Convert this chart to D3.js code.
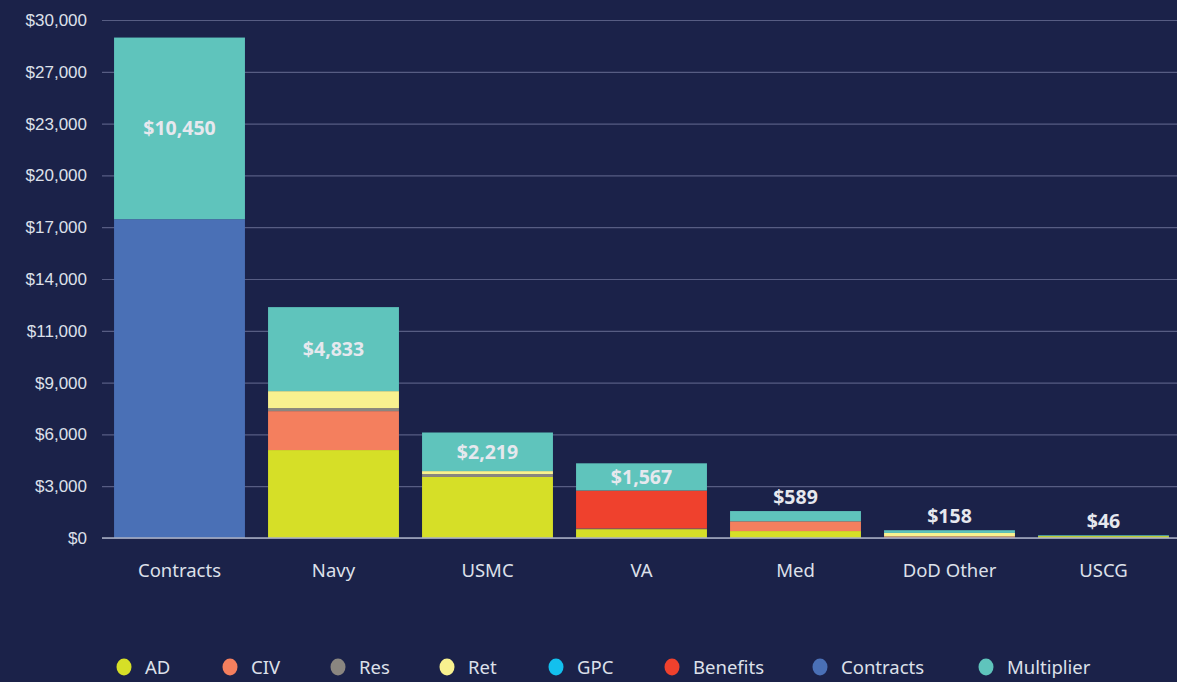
<!DOCTYPE html>
<html><head><meta charset="utf-8">
<script src="https://cdn.jsdelivr.net/npm/d3@7"></script>
<style>
html,body{margin:0;padding:0;background:#1b2249;}
svg{display:block;font-family:"Noto Sans",sans-serif;}
</style></head>
<body><svg id="chart" width="1177" height="682"></svg>
<script>
const categories = ["Contracts","Navy","USMC","VA","Med","DoD Other","USCG"];
const seriesNames = ["AD","CIV","Res","Ret","GPC","Benefits","Contracts","Multiplier"];
const AD         = [0, 5060, 3510, 510, 400, 20, 110];
const CIV        = [0, 2240, 0, 0, 560, 70, 0];
const Res        = [0, 170, 170, 40, 0, 0, 0];
const Ret        = [0, 980, 170, 0, 0, 200, 0];
const GPC        = [0, 0, 0, 0, 0, 0, 0];
const Benefits   = [0, 0, 0, 2180, 0, 0, 0];
const Contracts  = [18340, 0, 0, 0, 0, 0, 0];
const Multiplier = [10450, 4833, 2219, 1567, 589, 158, 46];
const yMax = 29800;
const yTickLabels = ["$0","$3,000","$6,000","$9,000","$11,000","$14,000","$17,000","$20,000","$23,000","$27,000","$30,000"];
const colors = ["#d6df27","#f47f5e","#8a8680","#f8f18f","#13c0ee","#ef412d","#4a70b6","#5fc4bc"];

(function(){
const seriesData = [AD,CIV,Res,Ret,GPC,Benefits,Contracts,Multiplier];
const table = categories.map((c,i)=>{const o={cat:c};seriesNames.forEach((s,j)=>o[s]=seriesData[j][i]);return o;});
const stack = d3.stack().keys(seriesNames)(table);

const svg = d3.select("#chart");
const mTop=20, mBottom=538, mLeft=102.5, mRight=1180.5, gridLeft=102, gridRight=1177;
const x = d3.scaleBand().domain(categories).range([mLeft,mRight]).paddingInner(0.15).paddingOuter(0.075);
const y = d3.scaleLinear().domain([0,yMax]).range([mBottom,mTop]);

const tickVals = yTickLabels.map((l,i)=>i*yMax/(yTickLabels.length-1));
const yAxis = d3.axisLeft(y).tickValues(tickVals).tickFormat((d,i)=>yTickLabels[i]).tickSize(-(gridRight-gridLeft)).tickPadding(15);
const ga = svg.append("g").attr("transform",`translate(${gridLeft},0)`).call(yAxis);
ga.select(".domain").remove();
ga.selectAll(".tick line").attr("stroke","#575d83").attr("stroke-width",1.2);
ga.selectAll(".tick text").attr("fill","#dde0ea").attr("font-size",17);

const gs = svg.append("g");
stack.forEach((layer,j)=>{
  gs.selectAll(null).data(layer).join("rect")
    .attr("x",d=>x(d.data.cat)).attr("width",x.bandwidth())
    .attr("y",d=>y(d[1])).attr("height",d=>Math.max(0,y(d[0])-y(d[1])))
    .attr("fill",colors[j]);
});
svg.append("line").attr("x1",gridLeft).attr("x2",gridRight).attr("y1",y(0)).attr("y2",y(0)).attr("stroke","#aab0c4").attr("stroke-width",1.5);

const mult = stack[stack.length-1];
svg.append("g").selectAll("text").data(mult).join("text")
  .attr("x",d=>x(d.data.cat)+x.bandwidth()/2)
  .attr("y",d=>{const h=y(d[0])-y(d[1]); return h>26 ? (y(d[0])+y(d[1]))/2+7 : y(d[1])-7;})
  .attr("text-anchor","middle").attr("font-size",19.5).attr("font-weight",700)
  .attr("fill","#e6e8ee").text(d=>"$"+d3.format(",")(d.data.Multiplier));

svg.append("g").selectAll("text").data(categories).join("text")
  .attr("x",d=>x(d)+x.bandwidth()/2).attr("y",577).attr("text-anchor","middle")
  .attr("font-size",18.5).attr("fill","#dde0ea").text(d=>d);

const legX = [124,230,338,447,556,672,820,986];
const lg = svg.append("g").selectAll("g").data(seriesNames).join("g")
  .attr("transform",(d,i)=>`translate(${legX[i]},667)`);
lg.append("ellipse").attr("rx",7.5).attr("ry",8.5).attr("fill",(d,i)=>colors[i]);
lg.append("text").attr("x",21).attr("y",6.5).attr("font-size",18.5).attr("fill","#dde0ea").text(d=>d);
})();
</script></body></html>
